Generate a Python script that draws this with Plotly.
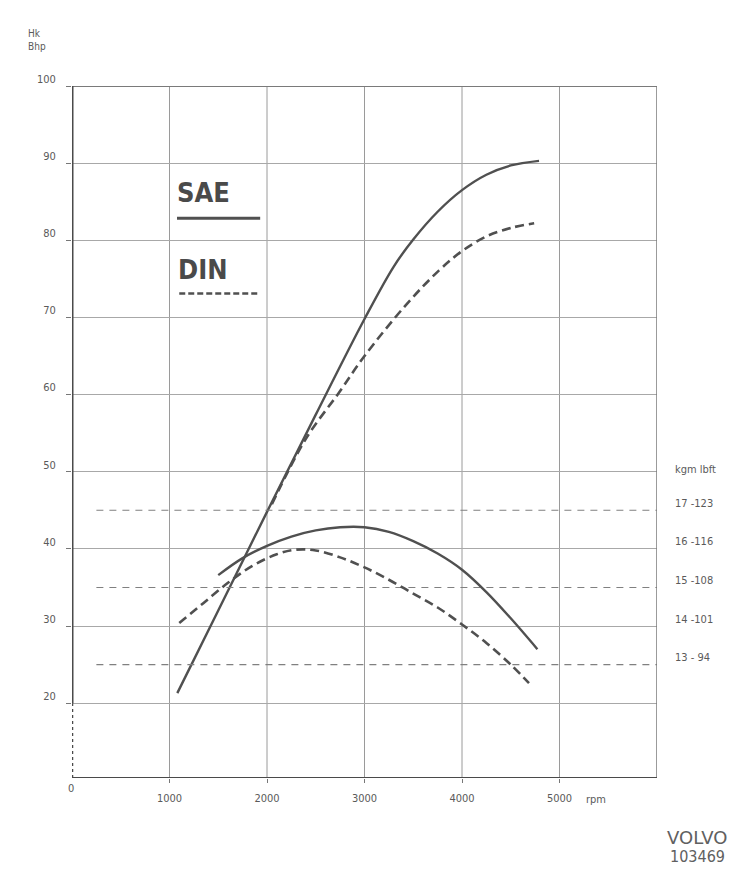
import plotly.graph_objects as go

# ---------------- data ----------------
rpm_sae_power = [1080, 1500, 2000, 2500, 3000, 3300, 3500, 3750, 4000, 4250, 4500, 4790]
sae_power_hp = [21.3, 32.0, 44.8, 57.4, 69.8, 76.6, 80.1, 83.7, 86.5, 88.5, 89.7, 90.3]

rpm_din_power = [2050, 2400, 2741, 3000, 3424, 3765, 4000, 4250, 4500, 4740]
din_power_hp = [45.8, 54.3, 60.3, 65.0, 71.6, 76.1, 78.6, 80.5, 81.6, 82.2]

rpm_sae_torque = [1500, 1750, 2000, 2250, 2500, 2750, 3000, 3250, 3500, 3750, 4000, 4250,
                  4500, 4773]
sae_torque_kgm = [15.32, 15.76, 16.08, 16.32, 16.48, 16.56, 16.56, 16.44, 16.2, 15.88, 15.46,
                  14.88, 14.2, 13.4]

rpm_din_torque = [1100, 1350, 1600, 1850, 2100, 2300, 2500, 2750, 3000, 3250, 3500, 3750,
                  4000, 4250, 4500, 4687]
din_torque_kgm = [14.08, 14.6, 15.12, 15.56, 15.86, 15.98, 15.96, 15.78, 15.52, 15.2, 14.84,
                  14.48, 14.04, 13.56, 13.0, 12.52]

x_ticks = [0, 1000, 2000, 3000, 4000, 5000]
y_ticks = [20, 30, 40, 50, 60, 70, 80, 90, 100]
torque_ticks = [17, 16, 15, 14, 13]
torque_tick_text = ["17 -123", "16 -116", "15 -108", "14 -101", "13 - 94"]
torque_ref_kgm = [17, 15, 13]
torque_ref_span = [250, 6000]

# ---------------- scales ----------------
X_MAX = 6000
Y_MIN, Y_MAX = 10.3, 100          # broken axis: bottom edge is labelled "0"
# torque (kgm) axis aligned so that kgm k sits at hp 5k-40
Y2_MIN, Y2_MAX = (Y_MIN + 40) / 5, (Y_MAX + 40) / 5

CURVE = "#505050"
GRID = "#9a9a9a"
TXT = "#5a5a5a"
FONT = "DejaVu Sans Condensed"

fig = go.Figure()

# torque reference lines (thin dashed)
for k in torque_ref_kgm:
    fig.add_trace(go.Scatter(x=torque_ref_span, y=[k, k], yaxis="y2", mode="lines",
                             line=dict(color="#808080", width=1.1, dash="7px,6px"),
                             hoverinfo="skip", showlegend=False))

# power curves
fig.add_trace(go.Scatter(x=rpm_sae_power, y=sae_power_hp, mode="lines", name="SAE",
                         line=dict(color=CURVE, width=2.4, shape="spline", smoothing=1.0),
                         showlegend=False))
fig.add_trace(go.Scatter(x=rpm_din_power, y=din_power_hp, mode="lines", name="DIN",
                         line=dict(color=CURVE, width=2.6, shape="spline", smoothing=1.0,
                                   dash="9px,5px"),
                         showlegend=False))
# torque curves
fig.add_trace(go.Scatter(x=rpm_sae_torque, y=sae_torque_kgm, yaxis="y2", mode="lines",
                         line=dict(color=CURVE, width=2.4, shape="spline", smoothing=1.0),
                         showlegend=False))
fig.add_trace(go.Scatter(x=rpm_din_torque, y=din_torque_kgm, yaxis="y2", mode="lines",
                         line=dict(color=CURVE, width=2.6, shape="spline", smoothing=1.0,
                                   dash="9px,5px"),
                         showlegend=False))

shapes = []
# vertical grid lines
for xv in x_ticks[1:]:
    shapes.append(dict(type="line", xref="x", yref="y", x0=xv, x1=xv, y0=Y_MIN, y1=Y_MAX,
                       line=dict(color=GRID, width=1), layer="below"))
# frame: top and right
shapes.append(dict(type="line", xref="x", yref="y", x0=0, x1=X_MAX, y0=Y_MAX, y1=Y_MAX,
                   line=dict(color="#7a7a7a", width=2)))
shapes.append(dict(type="line", xref="x", yref="y", x0=X_MAX, x1=X_MAX, y0=Y_MIN, y1=Y_MAX,
                   line=dict(color="#7a7a7a", width=1.5)))
# left axis: solid from 20 to 100, dotted below (broken axis)
shapes.append(dict(type="line", xref="x", yref="y", x0=0, x1=0, y0=20, y1=Y_MAX,
                   line=dict(color="#4a4a4a", width=3)))
shapes.append(dict(type="line", xref="x", yref="y", x0=0, x1=0, y0=Y_MIN, y1=20,
                   line=dict(color="#4a4a4a", width=2.5, dash="dot")))
# bottom axis
shapes.append(dict(type="line", xref="x", yref="y", x0=-40, x1=X_MAX, y0=Y_MIN, y1=Y_MIN,
                   line=dict(color="#4a4a4a", width=2)))
# legend swatches
shapes.append(dict(type="line", xref="x", yref="y", x0=1077, x1=1930, y0=82.85, y1=82.85,
                   line=dict(color=CURVE, width=3)))
shapes.append(dict(type="line", xref="x", yref="y", x0=1100, x1=1930, y0=73.1, y1=73.1,
                   line=dict(color=CURVE, width=2.5, dash="6px,3px")))

annotations = []
# legend text
annotations.append(dict(x=1060, y=86.2, xref="x", yref="y", text="SAE", showarrow=False,
                        xanchor="left", yanchor="middle",
                        font=dict(family=FONT, size=27, color="#4a4a4a", weight="bold")))
annotations.append(dict(x=1070, y=76.2, xref="x", yref="y", text="DIN", showarrow=False,
                        xanchor="left", yanchor="middle",
                        font=dict(family=FONT, size=27, color="#4a4a4a", weight="bold")))
# torque scale labels on the right
for k, t in zip(torque_ticks, torque_tick_text):
    annotations.append(dict(x=1, y=k, xref="paper", yref="y2", text=t, showarrow=False,
                            xanchor="left", yanchor="middle", xshift=16, yshift=7,
                            font=dict(family=FONT, size=11, color=TXT)))
annotations.append(dict(x=1, y=18, xref="paper", yref="y2", text="kgm lbft", showarrow=False,
                        xanchor="left", yanchor="middle", xshift=16, yshift=2,
                        font=dict(family=FONT, size=11, color=TXT)))
# left axis title and zero of the broken axis
annotations.append(dict(x=0, y=1, xref="paper", yref="paper", text="Hk<br>Bhp", showarrow=False,
                        xanchor="left", yanchor="bottom", xshift=-46, yshift=32, align="left",
                        font=dict(family=FONT, size=10, color=TXT)))
annotations.append(dict(x=0, y=Y_MIN, xref="x", yref="y", text="0", showarrow=False,
                        xanchor="center", yanchor="middle", yshift=-10, xshift=-1,
                        font=dict(family=FONT, size=11, color=TXT)))
# rpm unit after 5000
annotations.append(dict(x=5000, y=Y_MIN, xref="x", yref="y", text="rpm", showarrow=False,
                        xanchor="left", yanchor="middle", xshift=24, yshift=-21,
                        font=dict(family=FONT, size=11, color=TXT)))
# VOLVO stamp
annotations.append(dict(x=1, y=0, xref="paper", yref="paper", text="VOLVO", showarrow=False,
                        xanchor="center", yanchor="middle", xshift=40, yshift=-59,
                        font=dict(family="DejaVu Sans", size=18, color="#606060")))
annotations.append(dict(x=1, y=0, xref="paper", yref="paper", text="103469", showarrow=False,
                        xanchor="center", yanchor="middle", xshift=40, yshift=-78,
                        font=dict(family=FONT, size=16, color="#606060")))

fig.update_layout(
    width=735, height=865,
    margin=dict(l=64, r=86, t=78, b=95),
    paper_bgcolor="white", plot_bgcolor="white",
    showlegend=False,
    xaxis=dict(range=[0, X_MAX], tickvals=x_ticks[1:], ticktext=[str(v) for v in x_ticks[1:]],
               showgrid=False, zeroline=False, showline=False,
               ticks="outside", ticklen=4, tickcolor="#777", ticklabelstandoff=6,
               tickfont=dict(family=FONT, size=11, color=TXT)),
    yaxis=dict(range=[Y_MIN, Y_MAX], tickvals=y_ticks, ticktext=[str(v) for v in y_ticks],
               showgrid=True, gridcolor="#a8a8a8", gridwidth=1.3, zeroline=False, showline=False,
               ticks="outside", ticklen=5, tickcolor="#777", ticklabelstandoff=8,
               ticklabelshift=-7,
               tickfont=dict(family=FONT, size=11, color=TXT)),
    yaxis2=dict(range=[Y2_MIN, Y2_MAX], overlaying="y", side="right", visible=False),
    shapes=shapes,
    annotations=annotations,
)

fig.write_html("out.html")
